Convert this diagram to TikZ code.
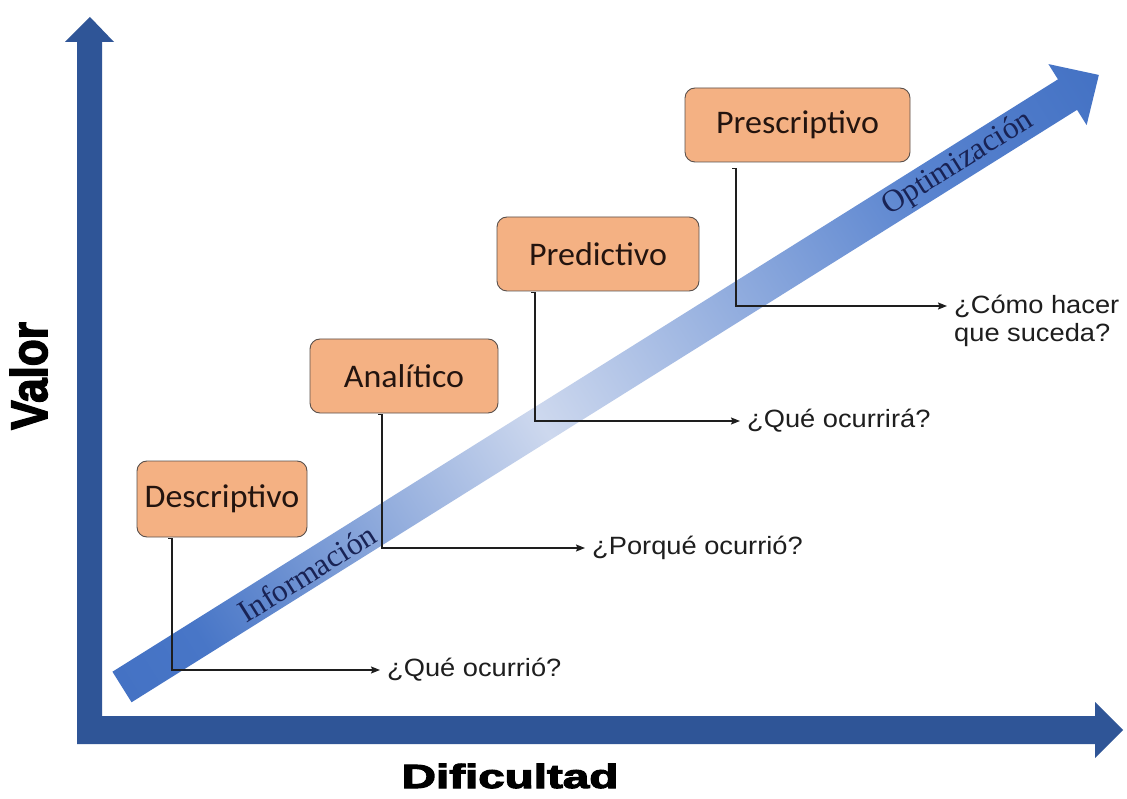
\documentclass[tikz,border=0pt]{standalone}
\usepackage{fontspec}
\usepackage{graphicx}
\usetikzlibrary{arrows.meta}
\setmainfont{Liberation Sans}
\newfontfamily\stagefont{Carlito}
\newfontfamily\diagfont{Liberation Serif}
\newfontfamily\axisfont{Liberation Sans Bold}[FakeBold=3]

\definecolor{axisblue}{RGB}{47,85,151}
\definecolor{flowdark}{RGB}{68,114,196}
\definecolor{flowdeep}{RGB}{72,118,199}
\definecolor{flowmid}{RGB}{88,131,207}
\definecolor{flowlight}{RGB}{205,216,238}
\definecolor{stagefill}{RGB}{244,177,131}
\definecolor{stageline}{RGB}{90,80,75}
\definecolor{inkgray}{RGB}{30,30,30}
\definecolor{stageink}{RGB}{35,20,15}
\definecolor{flowtext}{RGB}{25,35,85}

% gradient along the diagonal arrow (path spans 25bp..75bp)
\pgfdeclarehorizontalshading{flowshade}{100bp}{color(0bp)=(flowdark); color(25bp)=(flowdark); color(29bp)=(flowdeep); color(46.5bp)=(flowlight); color(66bp)=(flowmid); color(75bp)=(flowdark); color(100bp)=(flowdark)}

\newcommand\stagelabel[1]{\scalebox{1.03}[1]{\stagefont\fontsize{33}{36}\selectfont #1}}
\newcommand\querylabel[1]{\scalebox{1.09}[1]{\fontsize{25}{28}\selectfont #1}}
\newcommand\flowlabel[1]{\diagfont\fontsize{31.5}{34}\selectfont #1}

\begin{document}
\begin{tikzpicture}[x=1pt,y=-1pt,
  stage/.style={draw=stageline, fill=stagefill, line width=0.9pt, rounded corners=10pt,
    minimum height=74pt, inner sep=0pt, text=stageink},
  query/.style={anchor=west, inner xsep=7pt, inner ysep=0pt, text=inkgray},
  conn/.style={draw=inkgray, line width=1.2pt, -{Stealth[length=9pt,width=7pt,inset=1.5pt]}},
  flowtag/.style={rotate=32.07, text=flowtext, inner sep=0pt},
]
\useasboundingbox (0,0) rectangle (1127,799);
\fill[white] (0,0) rectangle (1127,799);

% axes: one L-shaped band with both arrowheads
\fill[axisblue] (77,744) -- (77,42) -- (65,42) -- (90,17) -- (114,42) -- (102,42)
  -- (102,716) -- (1095,716) -- (1095,702) -- (1123,730) -- (1095,758) -- (1095,744) -- cycle;

% diagonal progression arrow
\begin{scope}[transform canvas={shift={(122,687)}, rotate=32.07}]
  \shade[shading=flowshade] (0,-18) -- (1115.8,-18) -- (1115.8,-36) -- (1152.8,0)
    -- (1115.8,36) -- (1115.8,18) -- (0,18) -- cycle;
\end{scope}

\node[flowtag] (info) at (307,573) {\flowlabel{Información}};
\node[flowtag] (opti) at (958,164) {\flowlabel{Optimización}};

% stages
\node[stage, minimum width=170pt, minimum height=76pt] (desc) at (222,499) {\stagelabel{Descriptivo}};
\node[stage, minimum width=188pt] (anal) at (404,376) {\stagelabel{Analítico}};
\node[stage, minimum width=202pt] (pred) at (598,254) {\stagelabel{Predictivo}};
\node[stage, minimum width=225pt] (pres) at (797.5,125) {\stagelabel{Prescriptivo}};

% questions
\node[query] (q1) at (380,670) {\querylabel{¿Qué ocurrió?}};
\node[query] (q2) at (585,548) {\querylabel{¿Porqué ocurrió?}};
\node[query] (q3) at (740,421) {\querylabel{¿Qué ocurrirá?}};
\node[query] (q4) at (947,306) {\querylabel{¿Cómo hacer}};
\node[query] (q4b) at ([yshift=-29pt]q4.west) {\querylabel{que suceda?}};

% elbow connectors
\draw[conn] ([xshift=-54pt,yshift=-1pt]desc.south) -- ([xshift=-50pt,yshift=-1pt]desc.south) |- (q1.west);
\draw[conn] ([xshift=-26pt,yshift=-1pt]anal.south) -- ([xshift=-22pt,yshift=-1pt]anal.south) |- (q2.west);
\draw[conn] ([xshift=-67pt,yshift=-1pt]pred.south) -- ([xshift=-63pt,yshift=-1pt]pred.south) |- (q3.west);
\draw[conn] ([xshift=-65.5pt,yshift=-6pt]pres.south) -- ([xshift=-61.5pt,yshift=-6pt]pres.south) |- (q4.west);

% axis titles
\node[anchor=base, inner sep=0pt] (xlab) at (510,788) {\scalebox{1.42}[1]{\axisfont\fontsize{33.5}{36}\selectfont Dificultad}};
\node[anchor=base, rotate=90, inner sep=0pt] (ylab) at (47,376) {\scalebox{1.1}[1.28]{\axisfont\fontsize{40}{44}\selectfont Valor}};
\end{tikzpicture}
\end{document}
